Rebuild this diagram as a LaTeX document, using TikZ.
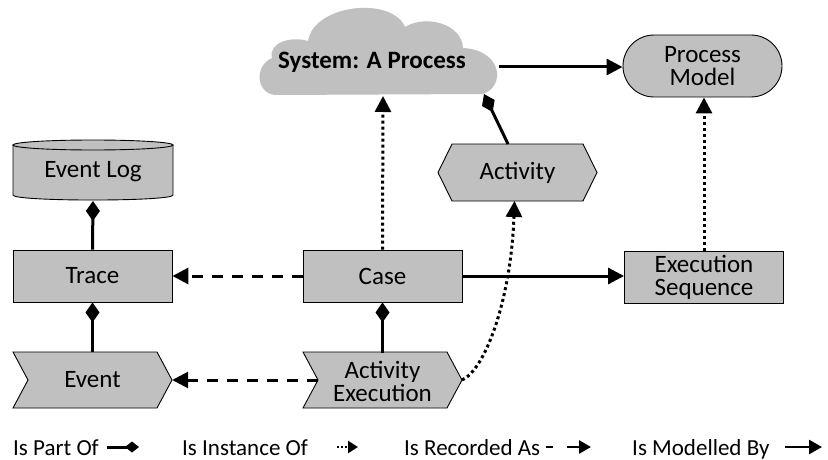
\documentclass[tikz,border=0pt]{standalone}
\usepackage{fontspec}
\setmainfont{Carlito}
\usetikzlibrary{arrows.meta}
\definecolor{boxgray}{RGB}{192,192,192}
\begin{document}
\begin{tikzpicture}[x=1pt,y=-1pt,
  txt/.style={font=\fontsize{25}{23}\selectfont, align=center, inner sep=0pt},
  box/.style={txt, draw=black, fill=boxgray, line width=0.9pt, minimum width=159pt, minimum height=52pt},
  holder/.style={txt, minimum width=159pt, minimum height=56pt},
  shapeline/.style={draw=black, fill=boxgray, line width=0.9pt, line join=miter},
  partof/.style={line width=3pt, -{Diamond[length=20pt,width=14pt]}},
  instof/.style={line width=3pt, dash pattern=on 3pt off 3pt, -{Triangle[length=16pt,width=16pt]}},
  recas/.style={line width=3pt, dash pattern=on 11pt off 9pt, -{Triangle[length=16pt,width=16pt]}},
  modby/.style={line width=3pt, -{Triangle[length=16pt,width=16pt]}},
  legend/.style={font=\fontsize{23}{23}\selectfont, inner sep=0pt, anchor=base west}
]
\fill[white] (0,0) rectangle (828,460);
\useasboundingbox (0,0) rectangle (828,460);

% cloud
\fill[boxgray] (275,95) .. controls (256,93) and (254,66) .. (272,58)
  .. controls (268,42) and (292,36) .. (308,41)
  .. controls (314,4) and (392,-4) .. (405,27)
  .. controls (426,14) and (462,24) .. (463,48)
  .. controls (502,50) and (506,86) .. (483,94) -- cycle;
\node[txt, font=\bfseries\fontsize{25}{24}\selectfont] (cloud) at (372,62) {System: A Process};
\coordinate (cloudS) at (383,96);
\coordinate (cloudE) at (499,67);
\coordinate (cloudSE) at (484,94);

% process model
\node[box, rounded corners=31pt, minimum height=62pt] (pm) at (702.5,66) {Process\\Model};

% event log cylinder
\path[shapeline] (13,145) -- (13,195) .. controls (13,201.7) and (173,201.7) .. (173,195) -- (173,145) -- cycle;
\path[shapeline] (93,145) ellipse [x radius=80, y radius=5];
\node[txt, minimum width=160pt, minimum height=62pt] (evlog) at (93,172) {\raisebox{-3pt}{Event Log}};
\coordinate (evlogS) at (93,201);

% rectangles
\node[box] (trace) at (92.5,276) {Trace};
\node[box] (case) at (382.5,276) {Case};
\node[box] (execseq) at (704,277) {Execution\\Sequence};

% chevrons
\path[shapeline] (13,352) -- (157,352) -- (172,380) -- (157,408) -- (13,408) -- (28,380) -- cycle;
\node[holder] (event) at (92.5,380) {Event};
\path[shapeline] (303,352) -- (447,352) -- (462,380) -- (447,408) -- (303,408) -- (318,380) -- cycle;
\node[holder] (actexec) at (382.5,381) {Activity\\Execution};
\coordinate (actexecW) at (318,380);
\coordinate (actexecE) at (462,380);

% hexagon
\path[shapeline] (438,172.5) -- (452,144) -- (583,144) -- (597,172.5) -- (583,201) -- (452,201) -- cycle;
\node[txt, minimum width=159pt, minimum height=57pt] (activity) at (517.5,172.5) {Activity};
\coordinate (activityN) at (508,144);
\coordinate (activityS) at (514.5,201);

% connectors
\draw[partof] (trace.north) -- (evlogS);
\draw[partof] (event.north) -- (trace.south);
\draw[partof] (actexec.north) -- (case.south);
\draw[partof] (activityN) -- (cloudSE);
\draw[recas] (case.west) -- (trace.east);
\draw[recas] (actexecW) -- (event.east);
\draw[instof] (case.north) -- (cloudS);
\draw[instof] (actexecE) .. controls (485,370) and (511,300) .. (activityS);
\draw[instof] (execseq.north) -- (execseq.north |- pm.south);
\draw[modby] (cloudE) -- (cloudE -| pm.west);
\draw[modby] (case.east) -- (case.east -| execseq.west);

% legend
\node[legend] (l1) at (13,455) {Is Part Of};
\coordinate (l1a) at (107,447); \coordinate (l1b) at (139,447);
\draw[line width=3pt, -{Diamond[length=14pt,width=11pt]}] (l1a) -- (l1b);
\node[legend] (l2) at (182,455) {Is Instance Of};
\coordinate (l2a) at (337,447); \coordinate (l2b) at (358,447);
\draw[line width=2.4pt, dash pattern=on 2.4pt off 1.6pt, -{Triangle[length=10pt,width=12pt]}] (l2a) -- (l2b);
\node[legend] (l3) at (404,455) {Is Recorded As};
\coordinate (l3a) at (546,447); \coordinate (l3m) at (553,447);
\coordinate (l3n) at (567,447); \coordinate (l3b) at (591,447);
\draw[line width=2.6pt] (l3a) -- (l3m);
\draw[line width=2.6pt, -{Triangle[length=12pt,width=13pt]}] (l3n) -- (l3b);
\node[legend] (l4) at (632,455) {Is Modelled By};
\coordinate (l4a) at (785,447); \coordinate (l4b) at (822,447);
\draw[line width=2.6pt, -{Triangle[length=13pt,width=14pt]}] (l4a) -- (l4b);
\end{tikzpicture}
\end{document}
